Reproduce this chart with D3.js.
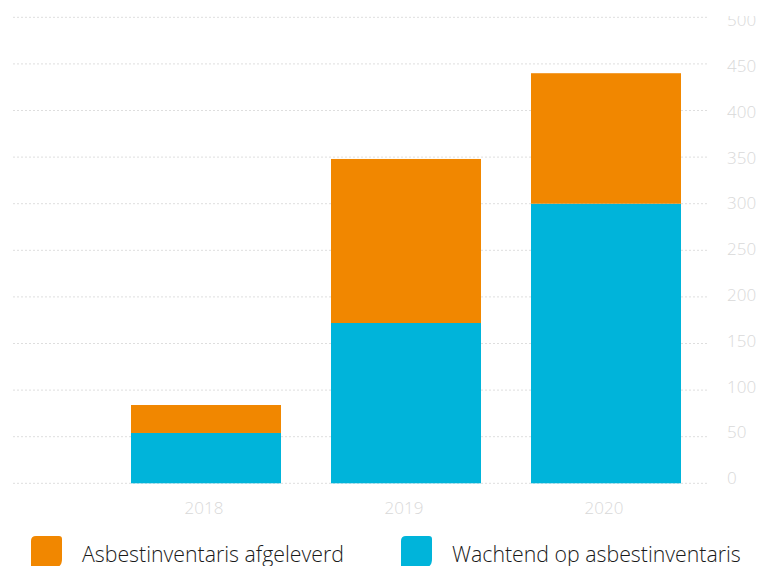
<!DOCTYPE html>
<html>
<head>
<meta charset="utf-8">
<script src="https://cdn.jsdelivr.net/npm/d3@7"></script>
<style>
    html, body { margin: 0; padding: 0; background: #fff; }
    svg { display: block; font-family: 'Open Sans', sans-serif; }
</style>
</head>
<body>
<svg id="chart" width="760" height="566"></svg>
<script>
const years = ['2018', '2019', '2020'],
    afgeleverd = [30, 176, 140],
    wachtend = [54, 172, 300],
    yTicks = [0, 50, 100, 150, 200, 250, 300, 350, 400, 450, 500],
    seriesNames = ['Asbestinventaris afgeleverd', 'Wachtend op asbestinventaris'];

const colors = {
    orange: '#f18700',
    blue: '#00b4da',
    grid: '#dedede',
    label: '#d9d9d9',
    text: '#1a1a1a'
};

const svg = d3.select('#chart');

const x = d3.scaleBand()
    .domain(years)
    .range([106, 706])
    .paddingInner(0.25)
    .paddingOuter(0.125);

const y = d3.scaleLinear()
    .domain([0, 500])
    .range([483.3, 17.3]);

// the value labels sit on a slightly tighter scale than the grid
const yLabel = d3.scaleLinear()
    .domain([0, 500])
    .range([478, 20]);

function buildGrid() {
    svg.append('g')
        .classed('grid', true)
        .selectAll('line')
        .data(yTicks)
        .join('line')
        .attr('x1', 13)
        .attr('x2', 709)
        .attr('y1', d => y(d))
        .attr('y2', d => y(d))
        .attr('stroke', colors.grid)
        .attr('stroke-width', 1)
        .attr('stroke-dasharray', '2,2');
}

function buildBars() {
    const rows = years.map((yr, i) => ({ year: yr, wachtend: wachtend[i], afgeleverd: afgeleverd[i] })),
        stacked = d3.stack().keys(['wachtend', 'afgeleverd'])(rows),
        fills = { wachtend: colors.blue, afgeleverd: colors.orange };

    svg.append('g')
        .classed('bars', true)
        .selectAll('g')
        .data(stacked)
        .join('g')
        .attr('fill', d => fills[d.key])
        .selectAll('rect')
        .data(d => d)
        .join('rect')
        .attr('x', d => x(d.data.year))
        .attr('width', x.bandwidth())
        .attr('y', d => y(d[1]))
        .attr('height', d => y(d[0]) - y(d[1]));
}

function buildAxes() {
    svg.append('clipPath')
        .attr('id', 'label-clip')
        .append('rect')
        .attr('x', 0)
        .attr('y', 16)
        .attr('width', 760)
        .attr('height', 550);

    svg.append('g')
        .attr('clip-path', 'url(#label-clip)')
        .selectAll('text')
        .data(yTicks)
        .join('text')
        .text(d => d)
        .attr('x', 727)
        .attr('y', d => yLabel(d))
        .attr('dy', '0.36em')
        .attr('fill', colors.label)
        .style('font-size', '17px')
        .style('font-weight', 300);

    svg.append('g')
        .selectAll('text')
        .data(years)
        .join('text')
        .text(d => d)
        .attr('x', d => x(d) + x.bandwidth() / 2 - 2)
        .attr('y', 514)
        .attr('text-anchor', 'middle')
        .attr('fill', colors.label)
        .style('font-size', '17px')
        .style('font-weight', 300);
}

function leafPath(w, h) {
    // small radius top left / top right, big radius bottom right
    const a = 5, b = 3, c = 9;
    return `M0,${a} Q0,0 ${a},0 L${w - b},0 Q${w},0 ${w},${b} L${w},${h - c} Q${w},${h} ${w - c},${h} L0,${h} Z`;
}

function buildLegend() {
    const items = [
        { name: seriesNames[0], color: colors.orange, x: 31 },
        { name: seriesNames[1], color: colors.blue, x: 401 }
    ];

    const g = svg.append('g')
        .classed('legend', true)
        .selectAll('g')
        .data(items)
        .join('g')
        .attr('transform', d => `translate(${d.x}, 536)`);

    g.append('path')
        .attr('d', leafPath(31, 32))
        .attr('fill', d => d.color);

    g.append('text')
        .text(d => d.name)
        .attr('x', 51)
        .attr('y', 25.5)
        .attr('fill', colors.text)
        .style('font-size', '21.3px')
        .style('font-weight', 300);
}

buildGrid();
buildBars();
buildAxes();
buildLegend();
</script>
</body>
</html>
